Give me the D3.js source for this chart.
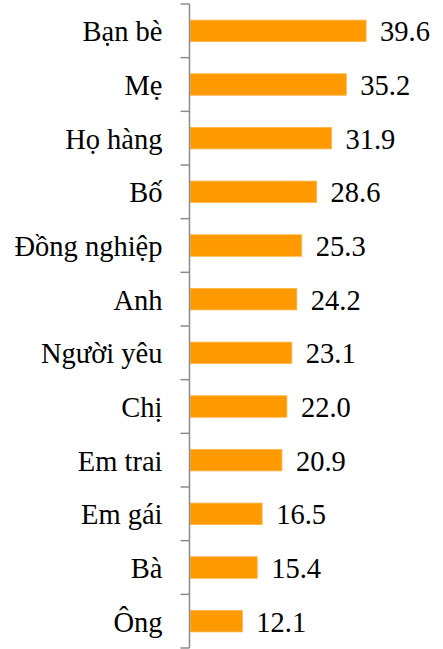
<!DOCTYPE html>
<html lang="vi">
<head>
<meta charset="utf-8">
<script src="https://cdn.jsdelivr.net/npm/d3@7"></script>
</head>
<body style="margin:0">
<script>
const categories = ["Bạn bè", "Mẹ", "Họ hàng", "Bố", "Đồng nghiệp", "Anh", "Người yêu", "Chị", "Em trai", "Em gái", "Bà", "Ông"];
const values = [39.6, 35.2, 31.9, 28.6, 25.3, 24.2, 23.1, 22.0, 20.9, 16.5, 15.4, 12.1];

const data = categories.map((c, i) => ({ cat: c, val: values[i] }));

const fonts = ["Tinos", "Liberation Serif", "FreeSerif"];
const fontFam = () => fonts.map(f => "'" + f + "'").join(", ") + ", serif";

const margin = { top: 4, right: 0, bottom: 1, left: 189.5 },
  height = 649 - margin.top - margin.bottom;

const root = d3.select("body")
  .append("svg")
    .attr("width", 443)
    .attr("height", 649)
    .style("font-family", fontFam);

const svg = root.append("g")
    .attr("transform", "translate(" + margin.left + "," + margin.top + ")");

// x scale (no visible axis)
let x = d3.scaleLinear()
  .domain([0, 40])
  .range([-1.6, 178.4]);

let y = d3.scaleBand()
  .domain(categories)
  .range([0, height])
  .paddingInner(0.6)
  .paddingOuter(0.3);

// bars
svg.selectAll(".bar")
  .data(data)
  .enter()
  .append("rect")
    .attr("x", 0.75)
    .attr("y", d => y(d.cat))
    .attr("width", d => x(d.val) - 0.75)
    .attr("height", y.bandwidth())
    .attr("fill", "#ff9900")
    .attr("stroke", "#ffb347")
    .attr("stroke-width", 0.8);

// axis line and ticks at band edges
svg.append("line")
  .attr("x1", 0).attr("x2", 0)
  .attr("y1", 0).attr("y2", height)
  .attr("stroke", "#8c8c8c")
  .attr("stroke-width", 1.5);

const step = height / categories.length;
svg.selectAll(".tick")
  .data(d3.range(categories.length + 1))
  .enter()
  .append("line")
    .attr("x1", -9).attr("x2", 0)
    .attr("y1", d => d * step)
    .attr("y2", d => d * step)
    .attr("stroke", "#8c8c8c")
    .attr("stroke-width", 1.5);

// category labels
svg.selectAll(".cat")
  .data(data)
  .enter()
  .append("text")
    .style("font-family", fontFam)
    .style("font-size", "28.5px")
    .attr("x", -27)
    .attr("y", d => y(d.cat) + y.bandwidth() / 2)
    .attr("dy", "0.37em")
    .attr("text-anchor", "end")
    .style("fill", "#000")
    .text(d => d.cat);

// value labels
svg.selectAll(".val")
  .data(data)
  .enter()
  .append("text")
    .style("font-family", fontFam)
    .style("font-size", "28.5px")
    .attr("x", d => x(d.val) + 14)
    .attr("y", d => y(d.cat) + y.bandwidth() / 2)
    .attr("dy", "0.37em")
    .style("fill", "#000")
    .text(d => d.val.toFixed(1));
</script>
</body>
</html>
